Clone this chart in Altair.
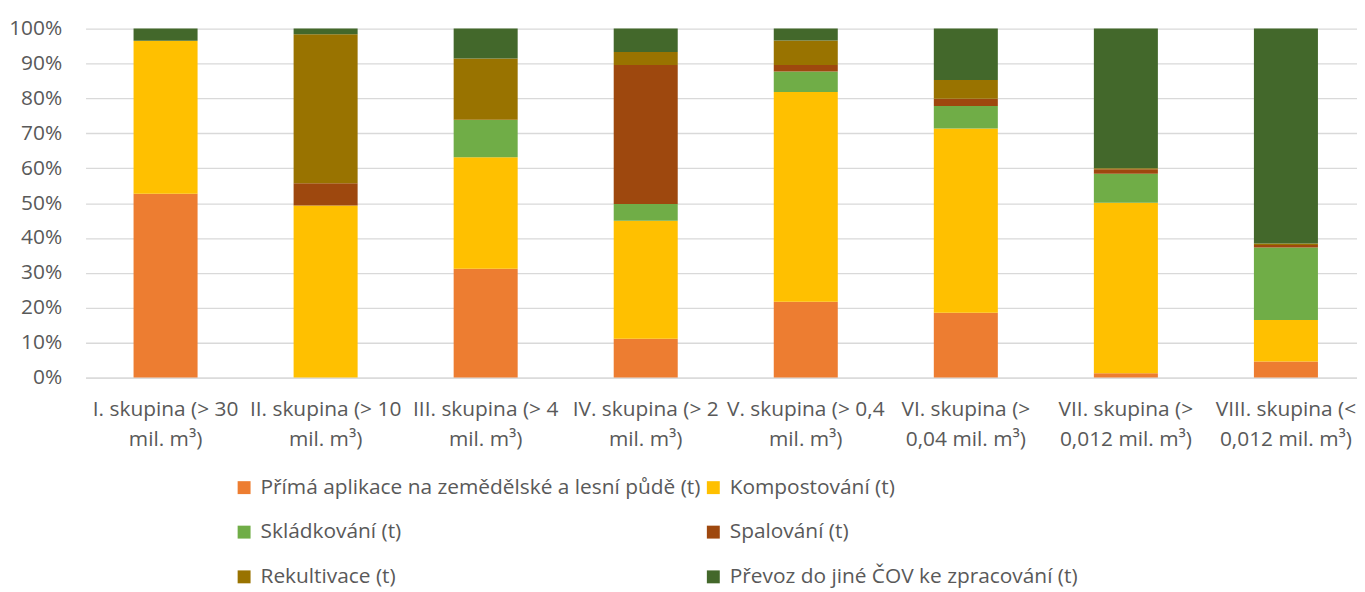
import altair as alt
import pandas as pd

# Category labels (two lines as wrapped in the original)
groups_line1 = ["I. skupina (> 30", "II. skupina (> 10", "III. skupina (> 4", "IV. skupina (> 2",
                "V. skupina (> 0,4", "VI. skupina (>", "VII. skupina (>", "VIII. skupina (<"]
groups_line2 = ["mil. m³)", "mil. m³)", "mil. m³)", "mil. m³)",
                "mil. m³)", "0,04 mil. m³)", "0,012 mil. m³)", "0,012 mil. m³)"]

series = ["Přímá aplikace na zemědělské a lesní půdě (t)", "Kompostování (t)",
          "Skládkování (t)", "Spalování (t)", "Rekultivace (t)",
          "Převoz do jiné ČOV ke zpracování (t)"]
colors = ["#ED7D31", "#FFC000", "#70AD47", "#9E480E", "#997300", "#43682B"]

# Shares in % per group (I .. VIII)
prima = [52.7, 0.0, 31.2, 11.1, 21.7, 18.6, 1.2, 4.6]
kompost = [43.8, 49.3, 31.9, 33.8, 60.1, 52.8, 48.9, 11.9]
skladka = [0.0, 0.0, 10.7, 4.8, 5.9, 6.4, 8.3, 20.8]
spal = [0.0, 6.4, 0.1, 39.9, 1.9, 2.1, 1.3, 0.7]
rekult = [0.0, 42.7, 17.5, 3.7, 7.0, 5.4, 0.3, 0.4]
prevoz = [3.5, 1.6, 8.6, 6.7, 3.4, 14.7, 40.0, 61.6]

values = [prima, kompost, skladka, spal, rekult, prevoz]
cats = [a + "|" + b for a, b in zip(groups_line1, groups_line2)]

rows = []
for si, (name, vals) in enumerate(zip(series, values)):
    for gi, v in enumerate(vals):
        rows.append({"skupina": cats[gi], "druh": name, "podil": v, "poradi": si})
df = pd.DataFrame(rows)

FONT = "Open Sans"
TXT = "#595959"
FS = 21

chart = alt.Chart(df).mark_bar().encode(
    x=alt.X("skupina:N", sort=cats, title=None,
            scale=alt.Scale(paddingInner=0.6, paddingOuter=0.3, range=[0, 1288]),
            axis=alt.Axis(labelExpr="split(datum.label, '|')", labelAngle=0, ticks=False,
                          domainColor="#D9D9D9", domainWidth=1.3, labelPadding=21,
                          labelFontSize=FS, labelColor=TXT, labelFont=FONT,
                          labelLineHeight=30, labelLimit=0, labelOverlap=False,
                          grid=False)),
    y=alt.Y("podil:Q", stack="normalize", title=None,
            scale=alt.Scale(domain=[0, 1], nice=False),
            axis=alt.Axis(format=".0%", values=[i / 10 for i in range(11)], ticks=False,
                          domain=False, labelPadding=24, labelFontSize=FS,
                          labelColor=TXT, labelFont=FONT,
                          gridColor="#D9D9D9", gridWidth=1.3)),
    color=alt.Color("druh:N", scale=alt.Scale(domain=series, range=colors),
                    legend=alt.Legend(title=None, orient="none", legendX=149, legendY=451,
                                      columns=2, direction="horizontal",
                                      symbolType="square", symbolSize=169,
                                      symbolStrokeWidth=0, labelOffset=6, rowPadding=23,
                                      columnPadding=2, labelFontSize=FS, labelColor=TXT,
                                      labelFont=FONT, labelLimit=0, padding=0)),
    order=alt.Order("poradi:Q", sort="ascending"),
).properties(
    width=1279, height=351,
    autosize=alt.AutoSizeParams(type="none"),
    padding={"left": 78, "top": 19, "right": 0, "bottom": 214},
).configure_view(stroke=None)

chart.save("out.html", embed_options={"renderer": "svg", "actions": False})
